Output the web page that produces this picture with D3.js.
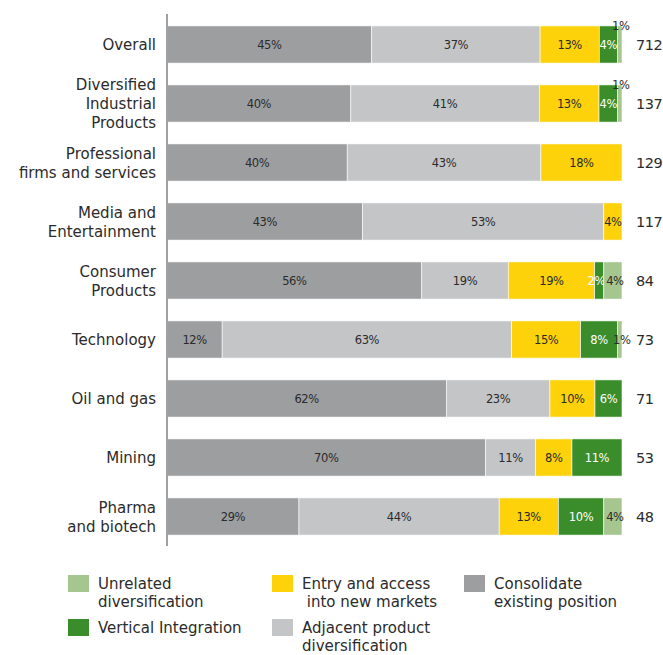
<!DOCTYPE html>
<html>
<head>
<meta charset="utf-8">
<script src="https://cdn.jsdelivr.net/npm/d3@7"></script>
<style>
  html, body { margin: 0; padding: 0; background: #fff; }
  svg { display: block; font-family: "DejaVu Sans", "Noto Sans", sans-serif; }
</style>
</head>
<body>
<svg id="chart" width="663" height="655"></svg>
<script>
// Sectors (top to bottom), with label lines and deal counts
const categories = [
  "Overall", "Diversified Industrial Products", "Professional firms and services",
  "Media and Entertainment", "Consumer Products", "Technology",
  "Oil and gas", "Mining", "Pharma and biotech"
];
const categoryLines = [
  ["Overall"], ["Diversified", "Industrial", "Products"], ["Professional", "firms and services"],
  ["Media and", "Entertainment"], ["Consumer", "Products"], ["Technology"],
  ["Oil and gas"], ["Mining"], ["Pharma", "and biotech"]
];
const counts = [712, 137, 129, 117, 84, 73, 71, 53, 48];

// Share of responses (%) per strategy, stacked left to right
const consolidate = [45, 40, 40, 43, 56, 12, 62, 70, 29];
const adjacent    = [37, 41, 43, 53, 19, 63, 23, 11, 44];
const entry       = [13, 13, 18, 4, 19, 15, 10, 8, 13];
const vertical    = [4, 4, 0, 0, 2, 8, 6, 11, 10];
const unrelated   = [1, 1, 0, 0, 4, 1, 0, 0, 4];

const seriesKeys = ["consolidate", "adjacent", "entry", "vertical", "unrelated"];
const seriesNames = {
  consolidate: ["Consolidate", "existing position"],
  adjacent: ["Adjacent product", "diversification"],
  entry: ["Entry and access", " into new markets"],
  vertical: ["Vertical Integration"],
  unrelated: ["Unrelated", "diversification"]
};
const colors = {
  consolidate: "#9d9ea0",
  adjacent: "#c4c5c7",
  entry: "#fdd20a",
  vertical: "#3a8d2a",
  unrelated: "#a5c68f"
};
// tiny slices whose label sits above the bar end
const liftedLabels = ["Overall", "Diversified Industrial Products"];

const table = categories.map((c, i) => ({
  category: c,
  count: counts[i],
  consolidate: consolidate[i],
  adjacent: adjacent[i],
  entry: entry[i],
  vertical: vertical[i],
  unrelated: unrelated[i]
}));

const svg = d3.select("#chart");
const textColor = "#2b2b2b";

const x = d3.scaleLinear().domain([0, 1]).range([167, 622]);
const y = d3.scaleBand().domain(categories).range([15, 546])
  .paddingInner(0.37).paddingOuter(0.185);

const stacked = d3.stack().keys(seriesKeys).offset(d3.stackOffsetExpand)(table);

const layers = svg.append("g").selectAll("g")
  .data(stacked)
  .join("g")
  .attr("fill", d => colors[d.key]);

layers.selectAll("rect")
  .data(d => d.filter(p => p.data[d.key] > 0))
  .join("rect")
  .attr("x", p => x(p[0]))
  .attr("y", p => y(p.data.category))
  .attr("width", p => x(p[1]) - x(p[0]))
  .attr("height", y.bandwidth())
  .attr("stroke", "#fff")
  .attr("stroke-width", 0.6);

// value labels inside segments
layers.each(function (layer) {
  const key = layer.key;
  d3.select(this).selectAll("text")
    .data(layer.filter(p => p.data[key] > 0))
    .join("text")
    .attr("text-anchor", "middle")
    .attr("font-size", 11.5)
    .attr("letter-spacing", -0.4)
    .attr("fill", key === "vertical" ? "#fff" : textColor)
    .attr("x", p => {
      const cx = (x(p[0]) + x(p[1])) / 2;
      if (liftedLabels.includes(p.data.category) && p.data[key] <= 1) return cx + 1;
      // keep narrow neighbouring labels from touching
      if (key === "vertical" && p.data[key] <= 2) return cx - 3;
      if (key === "unrelated" && p.data.vertical > 0 && p.data[key] <= 4) return cx + 2;
      return cx;
    })
    .attr("y", p => {
      const cy = y(p.data.category) + y.bandwidth() / 2;
      return liftedLabels.includes(p.data.category) && p.data[key] <= 1 ? y(p.data.category) + 4 : cy + 4.5;
    })
    .text(p => p.data[key] + "%");
});

// vertical axis line
svg.append("line")
  .attr("x1", 167).attr("x2", 167)
  .attr("y1", 14).attr("y2", 546)
  .attr("stroke", "#a0a0a0").attr("stroke-width", 2);

// category labels
const catG = svg.append("g").attr("font-size", 15).attr("fill", textColor).attr("text-anchor", "end");
categoryLines.forEach((lines, i) => {
  const cy = y(categories[i]) + y.bandwidth() / 2;
  const lh = 19;
  const t = catG.append("text").attr("x", 156);
  lines.forEach((ln, j) => {
    t.append("tspan")
      .attr("x", 156)
      .attr("y", cy + 5.5 + (j - (lines.length - 1) / 2) * lh)
      .text(ln);
  });
});

// counts on the right
svg.append("g").attr("font-size", 14.5).attr("letter-spacing", -0.5).attr("fill", textColor)
  .selectAll("text").data(table).join("text")
  .attr("x", 636)
  .attr("y", d => y(d.category) + y.bandwidth() / 2 + 5.5)
  .text(d => d.count);

// legend
const legendItems = [
  { key: "unrelated", col: 0, row: 0 },
  { key: "vertical", col: 0, row: 1 },
  { key: "entry", col: 1, row: 0 },
  { key: "adjacent", col: 1, row: 1 },
  { key: "consolidate", col: 2, row: 0 }
];
const colX = [68, 272, 464];
const rowY = [575, 619];
const lg = svg.append("g").attr("font-size", 15).attr("fill", textColor)
  .style("white-space", "pre");
legendItems.forEach(it => {
  const gx = colX[it.col], gy = rowY[it.row];
  lg.append("rect").attr("x", gx).attr("y", gy).attr("width", 21).attr("height", 17)
    .attr("fill", colors[it.key]);
  const t = lg.append("text");
  seriesNames[it.key].forEach((ln, j) => {
    t.append("tspan").attr("x", gx + 30).attr("y", gy + 14 + j * 18).text(ln);
  });
});
</script>
</body>
</html>
